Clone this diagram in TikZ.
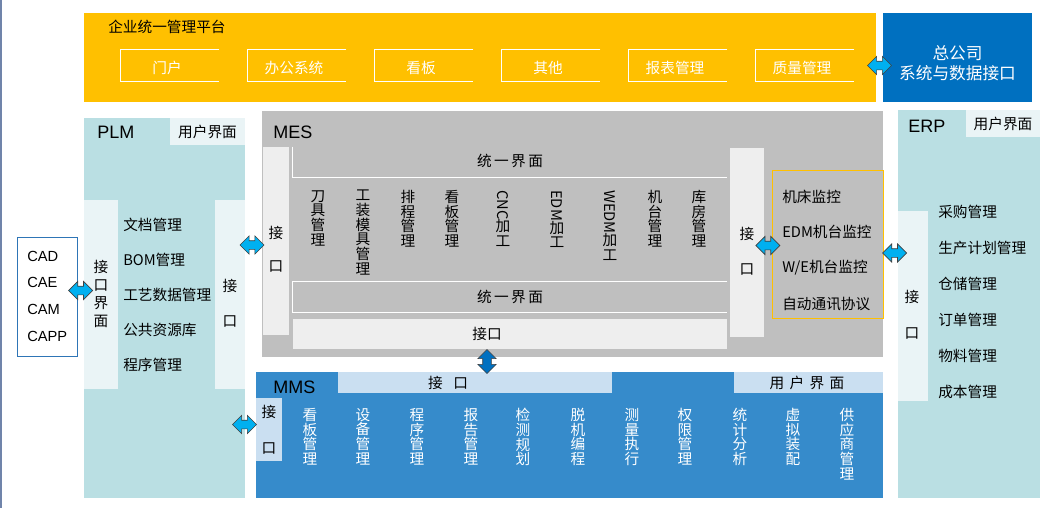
\documentclass[tikz,border=0pt]{standalone}
\usepackage{fontspec}
\setmainfont{Noto Sans CJK SC}
\newfontfamily\latinsf{Liberation Sans}
\usetikzlibrary{fit,calc,shapes.arrows}
\setlength{\lineskip}{0pt}

\definecolor{platyellow}{HTML}{FFC000}
\definecolor{hqblue}{HTML}{0070C0}
\definecolor{systeal}{HTML}{BADFE3}
\definecolor{stripteal}{HTML}{EAF4F6}
\definecolor{mesgray}{HTML}{BFBFBF}
\definecolor{stripgray}{HTML}{EEEEEE}
\definecolor{mmsblue}{HTML}{368BCB}
\definecolor{barblue}{HTML}{CADFF1}
\definecolor{linkcyan}{HTML}{00B0F0}
\definecolor{cadblue}{HTML}{2E75B6}
\definecolor{edgeblue}{HTML}{7084AA}

\tikzset{
  zone/.style={inner sep=0pt, fill=#1},
  lbl/.style={inner sep=0pt, font=\fontsize{11}{13}\selectfont},
  sysname/.style={inner sep=0pt, anchor=west, font=\latinsf\fontsize{13.5}{15}\selectfont},
  vlbl/.style={inner sep=0pt, align=center, anchor=north, font=\fontsize{11}{11}\selectfont},
  gaplbl/.style={inner sep=0pt, align=center, font=\fontsize{11}{#1}\selectfont},
  link/.style={double arrow, draw=black!75, line width=0.5pt, fill=#1, inner sep=3pt,
    minimum height=18pt, double arrow head extend=3.6pt},
}

\begin{document}
\begin{tikzpicture}[x=0.75pt, y=-0.75pt]
  \useasboundingbox (0,0) rectangle (1059,508);
  \draw[line width=1.5pt, edgeblue] (1,0) -- (1,508);

  % Piattaforma
  \node[zone=platyellow, fit={(84,13) (876,102)}] (plat) {};
  \node[lbl, anchor=west] (platT) at (108,27) {企业统一管理平台};
  \node[inner sep=0pt, fit={(121,50) (219,81)}] (m1) {};
  \node[inner sep=0pt, fit={(248,50) (346,81)}] (m2) {};
  \node[inner sep=0pt, fit={(375,50) (473,81)}] (m3) {};
  \node[inner sep=0pt, fit={(502,50) (600,81)}] (m4) {};
  \node[inner sep=0pt, fit={(629,50) (727,81)}] (m5) {};
  \node[inner sep=0pt, fit={(756,50) (854,81)}] (m6) {};
  \draw[white, line width=0.75pt] (m1.north east) -- (m1.north west) -- (m1.south west) -- (m1.south east);
  \draw[white, line width=0.75pt] (m2.north east) -- (m2.north west) -- (m2.south west) -- (m2.south east);
  \draw[white, line width=0.75pt] (m3.north east) -- (m3.north west) -- (m3.south west) -- (m3.south east);
  \draw[white, line width=0.75pt] (m4.north east) -- (m4.north west) -- (m4.south west) -- (m4.south east);
  \draw[white, line width=0.75pt] (m5.north east) -- (m5.north west) -- (m5.south west) -- (m5.south east);
  \draw[white, line width=0.75pt] (m6.north east) -- (m6.north west) -- (m6.south west) -- (m6.south east);
  \node[lbl, white] at ($(m1.center)+(-3,2)$) {门户};
  \node[lbl, white] at ($(m2.center)+(-3,2)$) {办公系统};
  \node[lbl, white] at ($(m3.center)+(-3,2)$) {看板};
  \node[lbl, white] at ($(m4.center)+(-3,2)$) {其他};
  \node[lbl, white] at ($(m5.center)+(-3,2)$) {报表管理};
  \node[lbl, white] at ($(m6.center)+(-3,2)$) {质量管理};

  \node[zone=hqblue, fit={(883,13) (1032,102)}] (hq) {};
  \node[gaplbl=15, white, font=\fontsize{12.5}{15}\selectfont] (hqT) at ($(hq.center)+(0,6)$) {总公司\\系统与数据接口};
  \node[link=linkcyan] (aHQ) at ($(plat.east |- m6.center)!0.5!(hq.west |- m6.center)$) {};

  % PLM
  \node[zone=systeal, fit={(84,118) (245,498)}] (plm) {};
  \node[zone=stripteal, fit={(170,118) (245,145)}] (plmUI) {};
  \node[lbl] at (plmUI.center) {用户界面};
  \node[sysname] at (97,132) {PLM};
  \node[zone=stripteal, fit={(84,200) (118,389)}] (plmInL) {};
  \node[gaplbl=13.5] at (101,294) {接\\口\\界\\面};
  \node[zone=stripteal, fit={(215,200) (245,389)}] (plmInR) {};
  \node[gaplbl=26] at (230,303) {接\\口};
  \node[lbl, anchor=west] at (123,225) {文档管理};
  \node[lbl, anchor=west] at (123,260) {BOM管理};
  \node[lbl, anchor=west] at (123,295) {工艺数据管理};
  \node[lbl, anchor=west] at (123,330) {公共资源库};
  \node[lbl, anchor=west] at (123,365) {程序管理};

  \node[draw=cadblue, fill=white, line width=0.75pt, inner sep=0pt, fit={(17,237) (77,356)}] (cad) {};
  \node[sysname, font=\latinsf\fontsize{11}{13}\selectfont] at (27,256) {CAD};
  \node[sysname, font=\latinsf\fontsize{11}{13}\selectfont] at (27,282) {CAE};
  \node[sysname, font=\latinsf\fontsize{11}{13}\selectfont] at (27,309) {CAM};
  \node[sysname, font=\latinsf\fontsize{11}{13}\selectfont] at (27,336) {CAPP};
  \node[link=linkcyan] (aCAD) at ($(cad.east)!0.5!(plmInL.west |- cad.east)+(0,-6)$) {};

  % MES
  \node[zone=mesgray, fit={(262,111) (883,357)}] (mes) {};
  \node[sysname] at (273,132) {MES};
  \node[zone=stripgray, fit={(263,147) (289,335)}] (mesInL) {};
  \node[gaplbl=25] at (276,249) {接\\口};
  \node[inner sep=0pt, fit={(293,147) (727,177)}] (uiTop) {};
  \draw[white, line width=0.75pt] (uiTop.north west) -- (uiTop.south west) -- (uiTop.south east);
  \node[lbl] at ($(uiTop.center)+(0,-1)$) {统\,一\,界\,面};
  \node[inner sep=0pt, fit={(293,282) (727,312)}] (uiBot) {};
  \draw[white, line width=0.75pt] (uiBot.north east) -- (uiBot.north west) -- (uiBot.south west) -- (uiBot.south east);
  \node[lbl] at (uiBot.center) {统\,一\,界\,面};
  \node[zone=stripgray, fit={(293,319) (727,349)}] (mesInB) {};
  \node[lbl] (mesInBT) at (487,334) {接口};

  \node[vlbl] at (318,190) {刀\\具\\管\\理};
  \node[vlbl] at (363,190) {工\\装\\模\\具\\管\\理};
  \node[vlbl] at (408,190) {排\\程\\管\\理};
  \node[vlbl] at (452,190) {看\\板\\管\\理};
  \node[vlbl] at (503,190) {\rotatebox[origin=c]{-90}{CNC}\\加\\工};
  \node[vlbl] at (557,190) {\rotatebox[origin=c]{-90}{EDM}\\加\\工};
  \node[vlbl] at (610,190) {\rotatebox[origin=c]{-90}{WEDM}\\加\\工};
  \node[vlbl] at (655,190) {机\\台\\管\\理};
  \node[vlbl] at (699,190) {库\\房\\管\\理};

  \node[zone=stripgray, fit={(730,148) (764,337)}] (mesInR) {};
  \node[gaplbl=26] at (747,251) {接\\口};
  \node[draw=platyellow, line width=0.75pt, inner sep=0pt, fit={(772,170) (883,318)}] (mon) {};
  \node[lbl, anchor=west] at (782,197) {机床监控};
  \node[lbl, anchor=west] at (782,232) {EDM机台监控};
  \node[lbl, anchor=west] at (782,268) {W/E机台监控};
  \node[lbl, anchor=west] at (782,304) {自动通讯协议};
  \node[link=linkcyan] (aMon) at ($(mesInR.east)!0.5!(mon.west |- mesInR.east)+(0,3)$) {};

  % ERP
  \node[zone=systeal, fit={(898,110) (1040,498)}] (erp) {};
  \node[zone=stripteal, fit={(966,110) (1040,137)}] (erpUI) {};
  \node[lbl] at (erpUI.center) {用户界面};
  \node[sysname] at (908,126) {ERP};
  \node[zone=stripteal, fit={(898,211) (928,401)}] (erpIn) {};
  \node[gaplbl=27] at (912,315) {接\\口};
  \node[lbl, anchor=west] at (938,212) {采购管理};
  \node[lbl, anchor=west] at (938,248) {生产计划管理};
  \node[lbl, anchor=west] at (938,284) {仓储管理};
  \node[lbl, anchor=west] at (938,320) {订单管理};
  \node[lbl, anchor=west] at (938,356) {物料管理};
  \node[lbl, anchor=west] at (938,392) {成本管理};
  \node[link=linkcyan] (aERP) at ($(mon.east)!0.5!(erp.west |- mon.east)+(4,9)$) {};

  % MMS
  \node[zone=mmsblue, fit={(256,372) (883,498)}] (mms) {};
  \node[zone=barblue, fit={(338,372) (612,393)}] (mmsIn) {};
  \node[lbl] at (448,383) {接\hspace{8pt}口};
  \node[zone=barblue, fit={(734,372) (883,393)}] (mmsUI) {};
  \node[lbl] at (807,383) {用\hspace{4pt}户\hspace{4pt}界\hspace{4pt}面};
  \node[sysname] at (273,387) {MMS};
  \node[zone=barblue, fit={(256,398) (282,461)}] (mmsInL) {};
  \node[gaplbl=27] at (269,430) {接\\口};

  \node[vlbl, white] at (310,408) {看\\板\\管\\理};
  \node[vlbl, white] at (363,408) {设\\备\\管\\理};
  \node[vlbl, white] at (417,408) {程\\序\\管\\理};
  \node[vlbl, white] at (471,408) {报\\告\\管\\理};
  \node[vlbl, white] at (523,408) {检\\测\\规\\划};
  \node[vlbl, white] at (578,408) {脱\\机\\编\\程};
  \node[vlbl, white] at (632,408) {测\\量\\执\\行};
  \node[vlbl, white] at (685,408) {权\\限\\管\\理};
  \node[vlbl, white] at (740,408) {统\\计\\分\\析};
  \node[vlbl, white] at (793,408) {虚\\拟\\装\\配};
  \node[vlbl, white] at (847,408) {供\\应\\商\\管\\理};

  % Collegamenti
  \node[link=linkcyan] (aPM) at ($(plm.east |- mesInL.center)!0.5!(mesInL.west)+(-2,4)$) {};
  \node[link=linkcyan] (aPMM) at ($(plm.east |- mmsInL.center)!0.5!(mmsInL.west)+(-6,-5)$) {};
  \node[link=hqblue, shape border rotate=90] (aMM) at ($(mesInBT |- mes.south)!0.5!(mesInBT |- mms.north)+(0,-3)$) {};
\end{tikzpicture}
\end{document}
